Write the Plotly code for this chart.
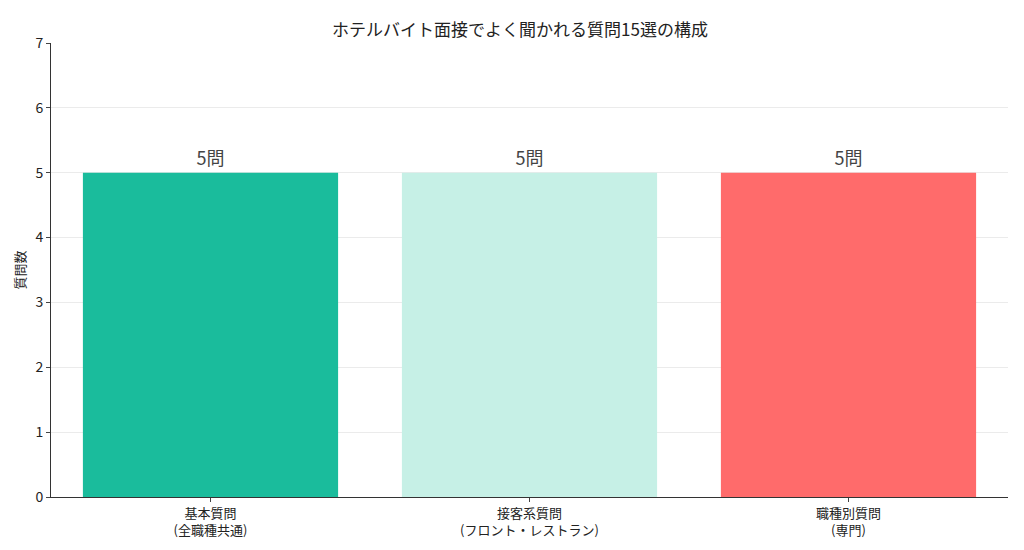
import plotly.graph_objects as go

categories = ["基本質問<br>(全職種共通)", "接客系質問<br>(フロント・レストラン)", "職種別質問<br>(専門)"]
values = [5, 5, 5]
labels = ["5問", "5問", "5問"]
colors = ["#1ABC9C", "#C6F0E6", "#FF6B6B"]

fig = go.Figure(go.Bar(
    x=categories, y=values, marker_color=colors, marker_line_width=0,
    text=labels, textposition="outside", textfont=dict(size=18, color="#444"),
    width=0.8, cliponaxis=False))
fig.update_layout(
    width=1024, height=550,
    font=dict(family="Noto Sans CJK JP", color="#222", size=13),
    title=dict(text="ホテルバイト面接でよく聞かれる質問15選の構成", x=0.5, y=0.97, xanchor="center", font=dict(size=17)),
    plot_bgcolor="white", paper_bgcolor="white",
    margin=dict(l=41, r=24, t=35, b=61),
    showlegend=False, bargap=0.2,
)
fig.update_yaxes(range=[0, 7], dtick=1, showgrid=True, gridcolor="#EBEBEB",
                 showline=True, linecolor="#333", ticks="outside", ticklen=4,
                 tickfont=dict(size=14),
                 title=dict(text="質問数", font=dict(size=13), standoff=6), zeroline=False)
fig.update_xaxes(showline=True, linecolor="#333", ticks="outside", ticklen=4, tickfont=dict(size=13))
fig.write_html("out.html")
